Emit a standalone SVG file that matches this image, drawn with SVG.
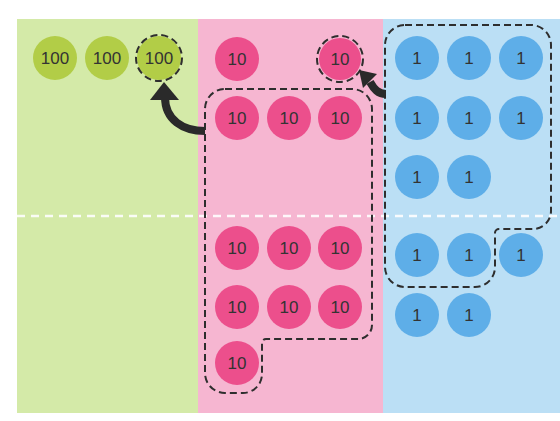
<svg xmlns="http://www.w3.org/2000/svg" width="560" height="421" viewBox="0 0 560 421">
  <style>
    .t{font-family:"Liberation Sans",Arial,sans-serif;font-size:17px;fill:#333;text-anchor:middle}
    .g{fill:#b2cd47}
    .p{fill:#ec4f8c}
    .b{fill:#5eaee8}
    .dash{fill:none;stroke:#2e2e2e;stroke-width:2;stroke-dasharray:7,4}
    .arrow{fill:none;stroke:#2a2a2a;stroke-width:8}
    .head{fill:#2a2a2a}
  </style>
  <rect x="0" y="0" width="560" height="421" fill="#ffffff"/>
  <g id="panels">
    <rect x="17" y="19" width="181" height="394" fill="#d4eaa8"/>
    <rect x="198" y="19" width="185" height="394" fill="#f6b6d1"/>
    <rect x="383" y="19" width="177" height="394" fill="#bbdff5"/>
    <line x1="17" y1="216" x2="560" y2="216" stroke="#ffffff" stroke-width="2.5" stroke-dasharray="8,6" opacity="0.9"/>
  </g>

  <g id="green-hundreds">
    <g id="h1"><circle class="g" cx="55" cy="58" r="22"/><text class="t" x="55" y="64">100</text></g>
    <g id="h2"><circle class="g" cx="107" cy="58" r="22"/><text class="t" x="107" y="64">100</text></g>
    <g id="h3"><circle class="g" cx="159" cy="58" r="22"/><circle class="dash" cx="159" cy="58" r="23"/><text class="t" x="159" y="64">100</text></g>
  </g>

  <g id="pink-tens">
    <g id="t1"><circle class="p" cx="237" cy="59" r="22"/><text class="t" x="237" y="65">10</text></g>
    <g id="t2"><circle class="p" cx="340" cy="59" r="21"/><circle class="dash" cx="340" cy="59" r="23"/><text class="t" x="340" y="65">10</text></g>
    <g id="t3"><circle class="p" cx="237" cy="118" r="22"/><text class="t" x="237" y="124">10</text></g>
    <g id="t4"><circle class="p" cx="289" cy="118" r="22"/><text class="t" x="289" y="124">10</text></g>
    <g id="t5"><circle class="p" cx="340" cy="118" r="22"/><text class="t" x="340" y="124">10</text></g>
    <g id="t6"><circle class="p" cx="237" cy="248" r="22"/><text class="t" x="237" y="254">10</text></g>
    <g id="t7"><circle class="p" cx="289" cy="248" r="22"/><text class="t" x="289" y="254">10</text></g>
    <g id="t8"><circle class="p" cx="340" cy="248" r="22"/><text class="t" x="340" y="254">10</text></g>
    <g id="t9"><circle class="p" cx="237" cy="307" r="22"/><text class="t" x="237" y="313">10</text></g>
    <g id="t10"><circle class="p" cx="289" cy="307" r="22"/><text class="t" x="289" y="313">10</text></g>
    <g id="t11"><circle class="p" cx="340" cy="307" r="22"/><text class="t" x="340" y="313">10</text></g>
    <g id="t12"><circle class="p" cx="237" cy="363" r="22"/><text class="t" x="237" y="369">10</text></g>
  </g>

  <g id="blue-ones">
    <g id="o1"><circle class="b" cx="417" cy="58" r="22"/><text class="t" x="417" y="64">1</text></g>
    <g id="o2"><circle class="b" cx="469" cy="58" r="22"/><text class="t" x="469" y="64">1</text></g>
    <g id="o3"><circle class="b" cx="521" cy="58" r="22"/><text class="t" x="521" y="64">1</text></g>
    <g id="o4"><circle class="b" cx="417" cy="118" r="22"/><text class="t" x="417" y="124">1</text></g>
    <g id="o5"><circle class="b" cx="469" cy="118" r="22"/><text class="t" x="469" y="124">1</text></g>
    <g id="o6"><circle class="b" cx="521" cy="118" r="22"/><text class="t" x="521" y="124">1</text></g>
    <g id="o7"><circle class="b" cx="417" cy="177" r="22"/><text class="t" x="417" y="183">1</text></g>
    <g id="o8"><circle class="b" cx="469" cy="177" r="22"/><text class="t" x="469" y="183">1</text></g>
    <g id="o9"><circle class="b" cx="417" cy="255" r="22"/><text class="t" x="417" y="261">1</text></g>
    <g id="o10"><circle class="b" cx="469" cy="255" r="22"/><text class="t" x="469" y="261">1</text></g>
    <g id="o11"><circle class="b" cx="521" cy="255" r="22"/><text class="t" x="521" y="261">1</text></g>
    <g id="o12"><circle class="b" cx="417" cy="315" r="22"/><text class="t" x="417" y="321">1</text></g>
    <g id="o13"><circle class="b" cx="469" cy="315" r="22"/><text class="t" x="469" y="321">1</text></g>
  </g>

  <g id="groupings">
    <path id="ten-tens" class="dash" d="M225,89 H352 A20,20 0 0 1 372,109 V325 A14,14 0 0 1 358,339 H266 A4,4 0 0 0 262,343 V374 A19,19 0 0 1 243,393 H225 A20,20 0 0 1 205,373 V109 A20,20 0 0 1 225,89 Z"/>
    <path id="ten-ones" class="dash" d="M405,25 H531 A20,20 0 0 1 551,45 V211 A18,18 0 0 1 533,229 H499 A4,4 0 0 0 495,233 V267 A20,20 0 0 1 475,287 H405 A20,20 0 0 1 385,267 V45 A20,20 0 0 1 405,25 Z"/>
  </g>

  <g id="connectors">
    <path class="arrow" d="M205,131 C183,131 165,120 165,97"/>
    <polygon class="head" points="164,82 150,100 179,100"/>
    <path class="arrow" d="M386,94 C378,94 374,89 370,82"/>
    <polygon class="head" points="359,70 377,74 363,88"/>
  </g>
</svg>
